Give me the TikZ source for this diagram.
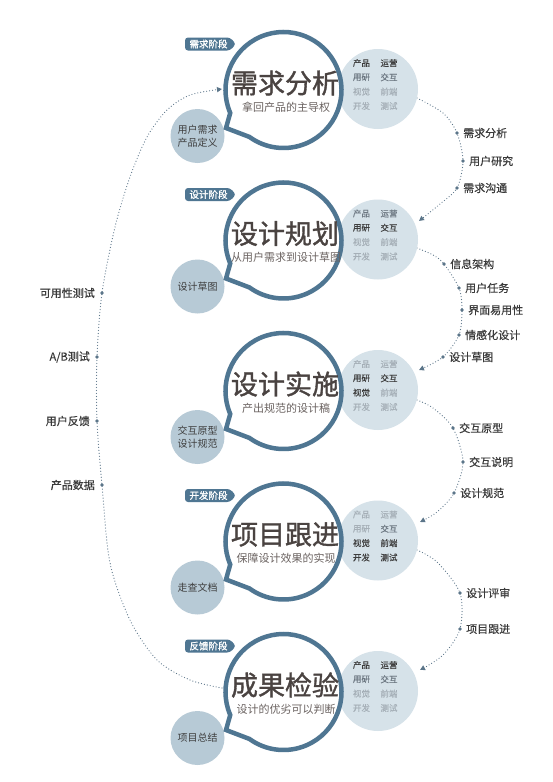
\documentclass[tikz,border=0pt]{standalone}
\usepackage{fontspec}
\setmainfont{Noto Sans CJK SC}
\newfontfamily\heavycjk[FakeBold=1.2]{Noto Sans CJK SC}
\newfontfamily\semicjk[FakeBold=0.5]{Noto Sans CJK SC}
\usetikzlibrary{arrows.meta,calc}
\definecolor{mainblue}{HTML}{4F7692}
\definecolor{rfill}{HTML}{D6E2E9}
\definecolor{sfill}{HTML}{B7CAD6}
\definecolor{dotc}{HTML}{5B7589}
\definecolor{titlec}{HTML}{4A4341}
\definecolor{subc}{HTML}{6B6361}
\definecolor{dk}{HTML}{3E3E3E}
\definecolor{md}{HTML}{6E7983}
\definecolor{lt}{HTML}{A5AFB7}
\definecolor{labc}{HTML}{3A3A3A}
\begin{document}
\begin{tikzpicture}[x=1pt,y=-1pt,
 rcirc/.style={circle,fill=rfill,minimum size=80pt,inner sep=0pt},
 scirc/.style={circle,fill=sfill,minimum size=54pt,inner sep=0pt,align=center,font=\fontsize{10}{13}\selectfont,text=dk},
 mainring/.style={draw=mainblue,line width=4.5pt,fill=white,line join=miter},
 titletxt/.style={font=\heavycjk\fontsize{27}{27}\selectfont,text=titlec,inner sep=0pt},
 subtxt/.style={font=\fontsize{11}{11}\selectfont,text=subc,inner sep=0pt},
 teamtxt/.style={font=\semicjk\fontsize{8.5}{8.5}\selectfont,inner sep=0pt},
 tagtxt/.style={font=\heavycjk\fontsize{9.5}{9.5}\selectfont,text=white,inner sep=0pt},
 flow/.style={draw=dotc,line width=1.2pt,dash pattern=on 0pt off 3pt,line cap=round},
 flowarrow/.style={flow,-{Triangle[length=5pt,width=5pt]}},
 dotmark/.style={circle,fill=dotc,inner sep=0pt,minimum size=3.6pt},
 lab/.style={font=\semicjk\fontsize{11}{11}\selectfont,text=labc,inner sep=0pt},
]
\fill[white] (0,0) rectangle (553,782);
\useasboundingbox (0,0) rectangle (553,782);

% ---------- left feedback arc ----------
\coordinate (Ls) at (222,688);
\coordinate (L1) at (190,680);
\coordinate (L2) at (157,660);
\coordinate (L3) at (130,620);
\coordinate (L4) at (110,563);
\node[dotmark] (Da) at (102,485) {};
\node[dotmark] (Db) at (97,421) {};
\node[dotmark] (Dc) at (97,357) {};
\node[dotmark] (Dd) at (102,293) {};
\coordinate (L5) at (115,227);
\coordinate (L6) at (130,177);
\coordinate (L7) at (147,137);
\coordinate (L8) at (167,110);
\coordinate (L9) at (190,95);
\coordinate (Le) at (222,89);
\draw[flowarrow] plot[smooth] coordinates {(Ls) (L1) (L2) (L3) (L4) (Da.center) (Db.center) (Dc.center) (Dd.center) (L5) (L6) (L7) (L8) (L9) (Le)};
\node[lab,anchor=east] (la) at ([xshift=-7pt]Da.center) {产品数据};
\node[lab,anchor=east] (lb) at ([xshift=-7pt]Db.center) {用户反馈};
\node[lab,anchor=east] (lc) at ([xshift=-7pt]Dc.center) {A/B测试};
\node[lab,anchor=east] (ld) at ([xshift=-7pt]Dd.center) {可用性测试};

% ---------- right arcs ----------
% 1 -> 2
\coordinate (a12s) at (417,98);
\coordinate (a12m) at (443,113);
\node[dotmark] (d12a) at (457,133) {};
\node[dotmark] (d12b) at (463,161) {};
\node[dotmark] (d12c) at (457,188) {};
\coordinate (a12n) at (440,204);
\coordinate (a12e) at (419,221);
\draw[flowarrow] plot[smooth] coordinates {(a12s) (a12m) (d12a.center) (d12b.center) (d12c.center) (a12n) (a12e)};
\node[lab,anchor=west] (l12a) at ([xshift=6pt]d12a.center) {需求分析};
\node[lab,anchor=west] (l12b) at ([xshift=6pt]d12b.center) {用户研究};
\node[lab,anchor=west] (l12c) at ([xshift=6pt]d12c.center) {需求沟通};
% 2 -> 3
\coordinate (a23s) at (417,248);
\coordinate (a23m) at (433,255);
\node[dotmark] (d23a) at (444,264) {};
\node[dotmark] (d23b) at (459,288) {};
\node[dotmark] (d23c) at (462,310) {};
\node[dotmark] (d23d) at (459,335) {};
\node[dotmark] (d23e) at (443,357) {};
\coordinate (a23e) at (419,370);
\draw[flowarrow] plot[smooth] coordinates {(a23s) (a23m) (d23a.center) (d23b.center) (d23c.center) (d23d.center) (d23e.center) (a23e)};
\node[lab,anchor=west] (l23a) at ([xshift=6pt]d23a.center) {信息架构};
\node[lab,anchor=west] (l23b) at ([xshift=6pt]d23b.center) {用户任务};
\node[lab,anchor=west] (l23c) at ([xshift=6pt]d23c.center) {界面易用性};
\node[lab,anchor=west] (l23d) at ([xshift=6pt]d23d.center) {情感化设计};
\node[lab,anchor=west] (l23e) at ([xshift=6pt]d23e.center) {设计草图};
% 3 -> 4
\coordinate (a34s) at (417,400);
\coordinate (a34m) at (433,408);
\node[dotmark] (d34a) at (453,428) {};
\node[dotmark] (d34b) at (463,462) {};
\node[dotmark] (d34c) at (454,493) {};
\coordinate (a34n) at (437,512);
\coordinate (a34e) at (420,522);
\draw[flowarrow] plot[smooth] coordinates {(a34s) (a34m) (d34a.center) (d34b.center) (d34c.center) (a34n) (a34e)};
\node[lab,anchor=west] (l34a) at ([xshift=6pt]d34a.center) {交互原型};
\node[lab,anchor=west] (l34b) at ([xshift=6pt]d34b.center) {交互说明};
\node[lab,anchor=west] (l34c) at ([xshift=6pt]d34c.center) {设计规范};
% 4 -> 5
\coordinate (a45s) at (417,550);
\coordinate (a45m) at (437,562);
\node[dotmark] (d45a) at (460,593) {};
\node[dotmark] (d45b) at (460,629) {};
\coordinate (a45n) at (443,655);
\coordinate (a45e) at (420,670);
\draw[flowarrow] plot[smooth] coordinates {(a45s) (a45m) (d45a.center) (d45b.center) (a45n) (a45e)};
\node[lab,anchor=west] (l45a) at ([xshift=6pt]d45a.center) {设计评审};
\node[lab,anchor=west] (l45b) at ([xshift=6pt]d45b.center) {项目跟进};

% ---------- stages ----------
\foreach \i/\cy/\ti/\su/\sm/\ca/\cb/\cc/\cd/\ce/\cf/\cg/\ch in {
 1/90/需求分析/拿回产品的主导权/{用户需求\\产品定义}/dk/dk/md/md/lt/lt/lt/lt,
 2/240.5/设计规划/从用户需求到设计草图/{设计草图}/md/md/dk/dk/lt/lt/lt/lt,
 3/391/设计实施/产出规范的设计稿/{交互原型\\设计规范}/lt/lt/dk/dk/dk/lt/lt/lt,
 4/541.5/项目跟进/保障设计效果的实现/{走查文档}/lt/lt/lt/md/dk/dk/dk/dk,
 5/692/成果检验/设计的优劣可以判断/{项目总结}/dk/dk/md/md/lt/lt/lt/lt}{
  \node[rcirc] (right\i) at (378,\cy-1) {};
  \node[scirc] (small\i) at (197.5,\cy+46) {\sm};
  \coordinate (c\i) at (283.5,\cy);
  \draw[mainring] ($(c\i)+(156.7:58)$) arc[start angle=156.7,end angle=486,radius=58]
     -- ($(c\i)+(-57.5,38)$) -- cycle;
  \node[titletxt] (title\i) at (285,\cy-7) {\ti};
  \node[subtxt] (sub\i) at (286,\cy+17) {\su};
  \node[teamtxt,text=\ca] (tA\i) at (361.5,\cy-27) {产品};
  \node[teamtxt,text=\cb] (tB\i) at (389,\cy-27) {运营};
  \node[teamtxt,text=\cc] (tC\i) at (361.5,\cy-12.7) {用研};
  \node[teamtxt,text=\cd] (tD\i) at (389,\cy-12.7) {交互};
  \node[teamtxt,text=\ce] (tE\i) at (361.5,\cy+1.6) {视觉};
  \node[teamtxt,text=\cf] (tF\i) at (389,\cy+1.6) {前端};
  \node[teamtxt,text=\cg] (tG\i) at (361.5,\cy+16) {开发};
  \node[teamtxt,text=\ch] (tH\i) at (389,\cy+16) {测试};
}

% ---------- stage tags ----------
\foreach \i/\cy/\tg in {1/90/需求阶段, 2/240.5/设计阶段, 4/541.5/开发阶段, 5/692/反馈阶段}{
  \fill[mainblue,rounded corners=3pt] (185,\cy-52.5) -- (230,\cy-52.5) -- (236,\cy-46) -- (230,\cy-39.5) -- (185,\cy-39.5) -- cycle;
  \node[tagtxt] (tag\i) at (208.5,\cy-46) {\tg};
}
\end{tikzpicture}
\end{document}
